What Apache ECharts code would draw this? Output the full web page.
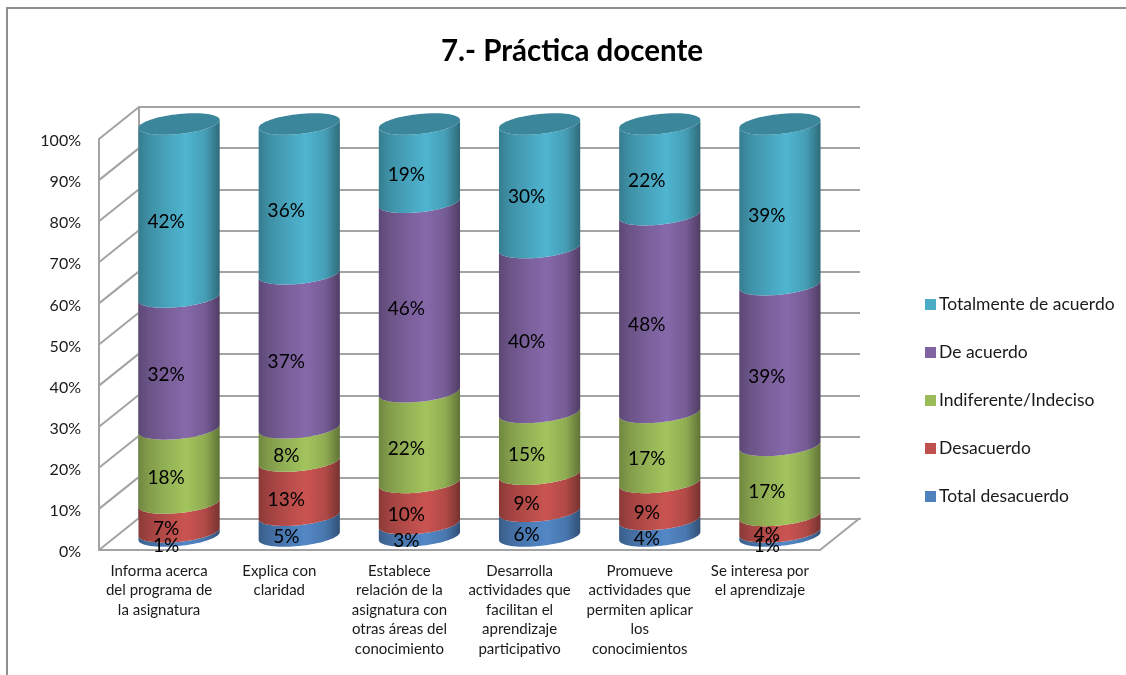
<!DOCTYPE html>
<html><head><meta charset="utf-8">
<style>html,body{margin:0;padding:0;background:#fff}#c{width:1126px;height:675px}</style>
<script src="https://cdn.jsdelivr.net/npm/echarts@6/dist/echarts.min.js"></script>
</head><body><div id="c"></div>
<script>
const categories = [
  "Informa acerca\ndel programa de\nla asignatura",
  "Explica con\nclaridad",
  "Establece\nrelación de la\nasignatura con\notras áreas del\nconocimiento",
  "Desarrolla\nactividades que\nfacilitan el\naprendizaje\nparticipativo",
  "Promueve\nactividades que\npermiten aplicar\nlos\nconocimientos",
  "Se interesa por\nel aprendizaje"
];
const totalDesacuerdo = [1, 5, 3, 6, 4, 1];
const desacuerdo      = [7, 13, 10, 9, 9, 4];
const indiferente     = [18, 8, 22, 15, 17, 17];
const deAcuerdo       = [32, 37, 46, 40, 48, 39];
const totalmente      = [42, 36, 19, 30, 22, 39];
const yTicks = [0,10,20,30,40,50,60,70,80,90,100];

const seriesDefs = [
  ["Total desacuerdo", totalDesacuerdo, "#4f81bd"],
  ["Desacuerdo", desacuerdo, "#c0504d"],
  ["Indiferente/Indeciso", indiferente, "#9bbb59"],
  ["De acuerdo", deAcuerdo, "#8064a2"],
  ["Totalmente de acuerdo", totalmente, "#4bacc6"]
];
const FONT = "Lato, 'Open Sans', sans-serif";
const GRAY = "#a3a3a3";
const DX = 40, DY = -32;

function shade(hex, f){
  const n = parseInt(hex.slice(1),16);
  const ch = s => Math.min(255, Math.round(((n>>s)&255)*f));
  return `rgb(${ch(16)},${ch(8)},${ch(0)})`;
}
function bodyFill(c){
  return {type:'linear',x:0,y:0,x2:1,y2:0,colorStops:[
    {offset:0,color:shade(c,.72)},{offset:.12,color:shade(c,.83)},
    {offset:.35,color:shade(c,.95)},{offset:.58,color:shade(c,1.05)},
    {offset:.82,color:shade(c,.92)},{offset:1,color:shade(c,.62)}]};
}
function arc(cx, cy, a, b, tilt, t0, t1, n){
  const pts = [];
  for(let i=0;i<=n;i++){
    const t = t0+(t1-t0)*i/n;
    pts.push([cx+a*Math.cos(t), cy+b*Math.sin(t)-tilt*Math.cos(t)]);
  }
  return pts;
}
const sums = categories.map((_,i)=>seriesDefs.reduce((s,d)=>s+d[1][i],0));
const running = categories.map(()=>0);

const cylinderSeries = seriesDefs.map(([name, vals, color], si)=>{
  const data = vals.map((v,i)=>{
    const start = running[i]/sums[i]*100;
    running[i]+=v;
    return [i, start, running[i]/sums[i]*100, v];
  });
  return {
    name, type:'custom', xAxisIndex:2, yAxisIndex:2, z:5, clip:false,
    itemStyle:{color},
    encode:{x:0,y:[1,2]},
    data,
    renderItem(params, api){
      const i=api.value(0), p0=api.coord([i,api.value(1)]), p1=api.coord([i,api.value(2)]);
      const band=api.size([1,0])[0], a=band*0.338, b=10, tilt=4;
      const lower=arc(p0[0],p0[1],a,b,tilt,Math.PI,0,36);
      const upper=arc(p1[0],p1[1],a,b,tilt,0,Math.PI,36);
      const children=[{type:'polygon',z2:1,shape:{points:lower.concat(upper)},style:{fill:bodyFill(color)}}];
      if(si===seriesDefs.length-1){
        children.push({type:'polygon',z2:2,shape:{points:arc(p1[0],p1[1],a,b,tilt,0,Math.PI*2,72)},
          style:{fill:shade(color,.78)}});
      }
      children.push({type:'text',z2:100,style:{
        text:api.value(3)+'%',x:p0[0]-13,y:(p0[1]+p1[1])/2+11.5,
        align:'center',verticalAlign:'middle',
        font:`19px ${FONT}`,fill:'#000'}});
      return {type:'group',children};
    }
  };
});

const wallSeries = {
  type:'custom', xAxisIndex:0, yAxisIndex:0, z:1, silent:true, clip:false,
  data: yTicks.map(v=>[v]),
  encode:{y:0},
  renderItem(params, api){
    const cs=params.coordSys, y=api.coord([0,api.value(0)])[1];
    const st={stroke:GRAY,lineWidth:2,fill:null};
    const kids=[{type:'line',shape:{x1:cs.x,y1:y,x2:cs.x+DX,y2:y+DY},style:st}];
    if(api.value(0)===0) kids.push({type:'line',shape:{x1:cs.x+cs.width,y1:y,x2:cs.x+cs.width+DX,y2:y+DY},style:st});
    return {type:'group',children:kids};
  }
};

const chart = echarts.init(document.getElementById('c'),null,{renderer:'canvas'});
const lineStyle={color:GRAY,width:2};
chart.setOption({
  animation:false,
  backgroundColor:'#fff',
  title:{text:"7.- Práctica docente",left:567,top:31,textAlign:'center',
    textStyle:{fontFamily:FONT,fontSize:29.5,fontWeight:'bold',color:'#000'}},
  legend:{orient:'vertical',left:920,top:290.5,itemWidth:11,itemHeight:11,itemGap:30,
    icon:'rect',data:seriesDefs.map(d=>d[0]).reverse(),selectedMode:false,
    textStyle:{fontFamily:FONT,fontSize:17.5,lineHeight:18,color:'#1a1a1a',padding:[0,0,0,-2]}},
  graphic:[{type:'polyline',silent:true,shape:{points:[[7,675],[7,8],[1126,8]]},
    style:{stroke:'#8f8f8f',lineWidth:2,fill:null}}],
  grid:[
    {left:99,top:139,width:721,height:411},
    {left:139,top:107,width:721,height:412},
    {left:119,top:124,width:721,height:412},
    {left:99,top:141,width:721,height:411}
  ],
  xAxis:[
    {gridIndex:0,type:'category',data:categories,axisTick:{show:false},axisLine:{lineStyle},
      axisLabel:{interval:0,margin:11,fontFamily:FONT,fontSize:15,lineHeight:19.6,color:'#1a1a1a',align:'center',verticalAlign:'top'}},
    {gridIndex:1,type:'category',data:categories,axisTick:{show:false},axisLabel:{show:false},axisLine:{lineStyle}},
    {gridIndex:2,type:'category',data:categories,show:false},
    {gridIndex:3,type:'category',data:categories,show:false}
  ],
  yAxis:[
    {gridIndex:0,type:'value',min:0,max:100,interval:10,splitLine:{show:false},axisTick:{show:false},
      axisLine:{show:true,lineStyle},axisLabel:{show:false}},
    {gridIndex:1,type:'value',min:0,max:100,interval:10,axisLabel:{show:false},axisTick:{show:false},
      axisLine:{show:true,lineStyle},splitLine:{show:true,lineStyle}},
    {gridIndex:2,type:'value',min:0,max:100,show:false,splitLine:{show:false}},
    {gridIndex:3,type:'value',min:0,max:100,interval:10,splitLine:{show:false},axisTick:{show:false},
      axisLine:{show:false},
      axisLabel:{margin:18,formatter:'{value}%',fontFamily:FONT,fontSize:16,color:'#1a1a1a'}}
  ],
  series:[wallSeries].concat(cylinderSeries)
});
</script></body></html>
